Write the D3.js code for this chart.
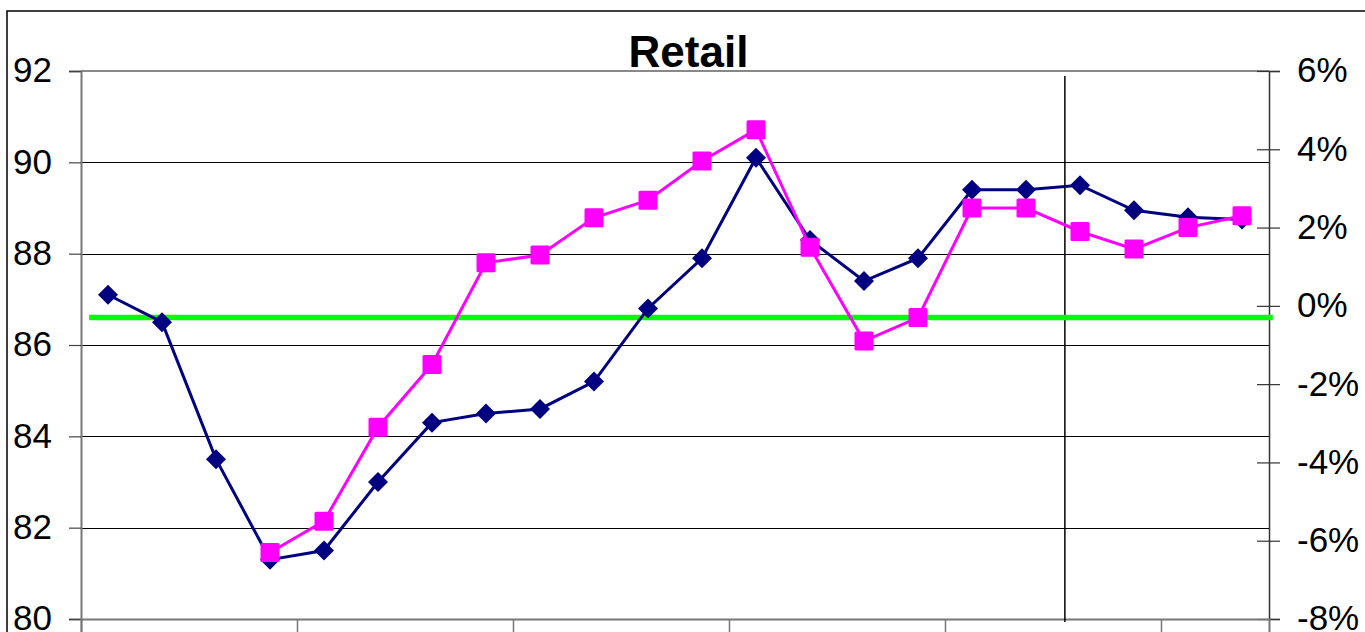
<!DOCTYPE html>
<html>
<head>
<meta charset="utf-8">
<script src="https://cdn.jsdelivr.net/npm/d3@7"></script>
<style>
  html, body { margin: 0; padding: 0; background: #fff; }
  svg { display: block; font-family: "Liberation Sans", Arial, sans-serif; }
</style>
</head>
<body>
<svg id="chart" width="1365" height="632"></svg>
<script>
// Periods along the horizontal axis (one per point)
const categories = ["1","2","3","4","5","6","7","8","9","10","11",
                    "12","13","14","15","16","17","18","19","20","21","22"];

// Retail index (left axis)
const indexValues = [87.1, 86.5, 83.5, 81.3, 81.5, 83.0, 84.3, 84.5, 84.6, 85.2, 86.8,
                     87.9, 90.1, 88.3, 87.4, 87.9, 89.4, 89.4, 89.5, 88.95, 88.8, 88.75];

// Annual change, % (right axis); no values for the first three periods
const changeValues = [null, null, null, -6.3, -5.5, -3.1, -1.5, 1.1, 1.3, 2.25, 2.7,
                      3.7, 4.5, 1.5, -0.9, -0.3, 2.5, 2.5, 1.9, 1.45, 2.0, 2.3];

// Long-run average level of the index
const averageLevel = 86.6;

// Axis ticks
const leftTicks = [80, 82, 84, 86, 88, 90, 92];
const rightTicks = [-8, -6, -4, -2, 0, 2, 4, 6];
const yearTickIndex = [0, 4, 8, 12, 16, 20];

// Position (in periods) of the vertical divider
const dividerAt = 18.22;

const svg = d3.select("#chart");
const plot = { left: 81, right: 1269, top: 71, bottom: 619 };

const x = d3.scaleLinear().domain([0, categories.length]).range([plot.left, plot.right]);
const cx = i => x(i + 0.5);
const yL = d3.scaleLinear().domain([80, 92]).range([plot.bottom, plot.top]);
const yR = d3.scaleLinear().domain([-8, 6]).range([plot.bottom, plot.top]);

// Outer frame
svg.append("rect")
  .attr("x", 7).attr("y", 11).attr("width", 1400).attr("height", 700)
  .attr("fill", "none").attr("stroke", "#000").attr("stroke-width", 1.5);

// Horizontal gridlines
svg.append("g").selectAll("line")
  .data(leftTicks.filter(v => v > 80 && v < 92))
  .join("line")
  .attr("x1", plot.left).attr("x2", plot.right)
  .attr("y1", d => Math.round(yL(d)) + 0.5).attr("y2", d => Math.round(yL(d)) + 0.5)
  .attr("stroke", "#000").attr("stroke-width", 1);

// Top border of the plot
svg.append("line")
  .attr("x1", plot.left).attr("x2", plot.right)
  .attr("y1", plot.top).attr("y2", plot.top)
  .attr("stroke", "#888").attr("stroke-width", 2);

// Left axis
const gL = svg.append("g")
  .attr("transform", `translate(${plot.left},0)`)
  .call(d3.axisLeft(yL).tickValues(leftTicks).tickSize(12).tickPadding(17));
gL.select(".domain").attr("stroke", "#777").attr("stroke-width", 2);
gL.selectAll(".tick line").attr("stroke", "#444").attr("stroke-width", 1.2);
gL.selectAll(".tick text")
  .attr("font-size", 35).attr("fill", "#000")
  .attr("font-family", "'Liberation Sans', Arial, sans-serif")
  .attr("dy", "0.31em");

// Right axis
const gR = svg.append("g")
  .attr("transform", `translate(${plot.right},0)`)
  .call(d3.axisRight(yR).tickValues(rightTicks).tickSize(11).tickPadding(17)
        .tickFormat(d => d + "%"));
gR.select(".domain").attr("stroke", "#333").attr("stroke-width", 1.5);
gR.selectAll(".tick line").attr("x1", -12).attr("stroke", "#333").attr("stroke-width", 1.2);
gR.selectAll(".tick text")
  .attr("font-size", 35).attr("fill", "#000")
  .attr("font-family", "'Liberation Sans', Arial, sans-serif")
  .attr("dy", "0.31em");

// Bottom axis (year separators, no labels)
const gB = svg.append("g")
  .attr("transform", `translate(0,${plot.bottom})`)
  .call(d3.axisBottom(x).tickValues(yearTickIndex).tickSize(16).tickFormat(""));
gB.select(".domain").attr("stroke", "#777").attr("stroke-width", 2);
gB.selectAll(".tick line").attr("stroke", "#777").attr("stroke-width", 1.5);

// Vertical divider
svg.append("line")
  .attr("x1", x(dividerAt)).attr("x2", x(dividerAt))
  .attr("y1", 76).attr("y2", plot.bottom + 3)
  .attr("stroke", "#000").attr("stroke-width", 1.5);

// Average level line
svg.append("line")
  .attr("x1", x(0.15)).attr("x2", x(22.07))
  .attr("y1", yL(averageLevel)).attr("y2", yL(averageLevel))
  .attr("stroke", "#00ff00").attr("stroke-width", 5.5);

// Index series (navy, diamonds)
const indexPts = indexValues.map((v, i) => ({ i, v }));
svg.append("path")
  .datum(indexPts)
  .attr("fill", "none").attr("stroke", "#000080").attr("stroke-width", 3)
  .attr("d", d3.line().x(d => cx(d.i)).y(d => yL(d.v)));
const dr = 10;
svg.append("g").selectAll("path")
  .data(indexPts)
  .join("path")
  .attr("transform", d => `translate(${cx(d.i)},${yL(d.v)})`)
  .attr("d", `M0,${-dr}L${dr},0L0,${dr}L${-dr},0Z`)
  .attr("fill", "#000080");

// Change series (magenta, squares)
const changePts = changeValues.map((v, i) => ({ i, v })).filter(d => d.v !== null);
svg.append("path")
  .datum(changePts)
  .attr("fill", "none").attr("stroke", "#ff00ff").attr("stroke-width", 3)
  .attr("d", d3.line().x(d => cx(d.i)).y(d => yR(d.v)));
const sq = 19;
svg.append("g").selectAll("rect")
  .data(changePts)
  .join("rect")
  .attr("x", d => cx(d.i) - sq / 2).attr("y", d => yR(d.v) - sq / 2)
  .attr("width", sq).attr("height", sq).attr("rx", 1.5)
  .attr("fill", "#ff00ff");

// Title
svg.append("text")
  .attr("x", 688.5).attr("y", 67)
  .attr("text-anchor", "middle")
  .attr("font-size", 44).attr("font-weight", "bold").attr("fill", "#000")
  .text("Retail");
</script>
</body>
</html>
